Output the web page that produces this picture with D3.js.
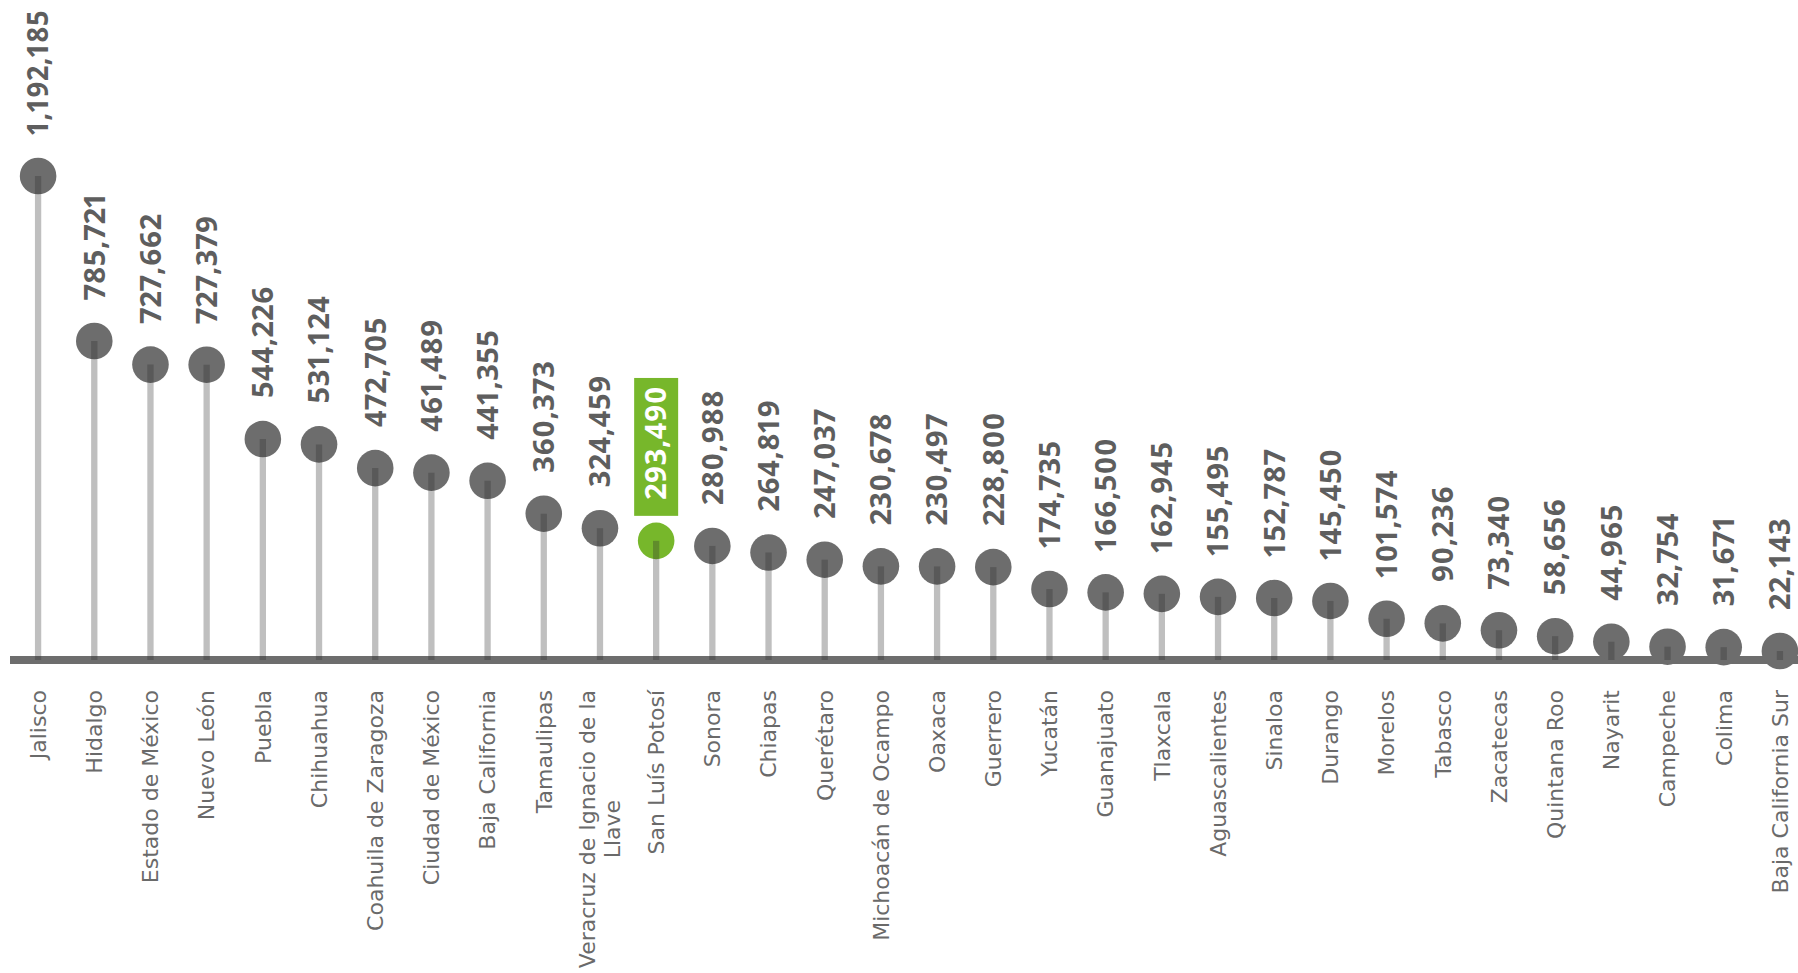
<!DOCTYPE html>
<html>
<head>
<meta charset="utf-8">
<script src="https://cdn.jsdelivr.net/npm/d3@7"></script>
<style>
  html, body { margin: 0; padding: 0; background: #ffffff; }
  svg { display: block; }
</style>
</head>
<body>
<svg id="chart" width="1798" height="973"></svg>
<script>
const states = [
  "Jalisco", "Hidalgo", "Estado de México", "Nuevo León", "Puebla", "Chihuahua",
  "Coahuila de Zaragoza", "Ciudad de México", "Baja California", "Tamaulipas",
  "Veracruz de Ignacio de la Llave", "San Luís Potosí", "Sonora", "Chiapas",
  "Querétaro", "Michoacán de Ocampo", "Oaxaca", "Guerrero", "Yucatán", "Guanajuato",
  "Tlaxcala", "Aguascalientes", "Sinaloa", "Durango", "Morelos", "Tabasco",
  "Zacatecas", "Quintana Roo", "Nayarit", "Campeche", "Colima", "Baja California Sur"
];
const values = [
  1192185, 785721, 727662, 727379, 544226, 531124,
  472705, 461489, 441355, 360373,
  324459, 293490, 280988, 264819,
  247037, 230678, 230497, 228800, 174735, 166500,
  162945, 155495, 152787, 145450, 101574, 90236,
  73340, 58656, 44965, 32754, 31671, 22143
];
const highlighted = ["San Luís Potosí"];

const data = states.map((s, i) => ({ state: s, value: values[i] }));

const svg = d3.select("#chart");
const baseY = 660;
const x = d3.scaleBand().domain(states).range([10, 1808]).padding(0);
const y = d3.scaleLinear().domain([0, d3.max(values)]).range([baseY, 176]);
const cx = d => x(d.state) + x.bandwidth() / 2;
const fmt = d3.format(",");
const isHi = d => highlighted.includes(d.state);

const GREEN = "#77b72b";
const DOT = "#6d6d6d";

// baseline (x axis domain line)
const axis = svg.append("g").attr("transform", `translate(0,${baseY})`)
  .call(d3.axisBottom(x).tickSize(0).tickFormat(""));
axis.select(".domain").attr("stroke", DOT).attr("stroke-width", 8)
  .attr("d", `M10,0H1798`);

// circles
svg.append("g").selectAll("circle").data(data).join("circle")
  .attr("cx", cx).attr("cy", d => y(d.value)).attr("r", 18.3)
  .attr("fill", d => isHi(d) ? GREEN : DOT);

// stems (translucent, on top)
svg.append("g").selectAll("line").data(data).join("line")
  .attr("x1", cx).attr("x2", cx)
  .attr("y1", d => y(d.value)).attr("y2", y(0))
  .attr("stroke", "rgba(43,43,43,0.3)").attr("stroke-width", 6.3);

// value labels
const vg = svg.append("g").selectAll("g").data(data).join("g")
  .attr("transform", d => `translate(${cx(d)},${y(d.value) - 41}) rotate(-90)`);
vg.each(function(d) {
  const g = d3.select(this);
  const t = g.append("text")
    .attr("x", 0).attr("y", 0).attr("dy", "0.355em")
    .attr("text-anchor", "start")
    .attr("font-family", "'Open Sans', sans-serif")
    .attr("font-weight", 700)
    .attr("font-size", 29)
    .attr("letter-spacing", 0.5)
    .style("font-variant-numeric", "proportional-nums")
    .attr("fill", isHi(d) ? "#ffffff" : "#5e5e5e")
    .text(fmt(d.value));
  // keep the label inside the picture
  const avail = y(d.value) - 41 - 10;
  const len0 = t.node().getComputedTextLength();
  if (len0 > avail) {
    t.attr("textLength", avail).attr("lengthAdjust", "spacingAndGlyphs");
  }
  if (isHi(d)) {
    const len = t.node().getComputedTextLength();
    g.insert("rect", "text")
      .attr("x", -16).attr("y", -22)
      .attr("width", len + 24).attr("height", 44)
      .attr("fill", GREEN);
  }
});

// category labels (rotated, wrapped)
const labelTop = 690;
const maxW = 295;
const lineH = 25;
const cg = svg.append("g").selectAll("g").data(data).join("g")
  .attr("transform", d => `translate(${cx(d)},${labelTop}) rotate(-90)`);
cg.each(function(d) {
  const g = d3.select(this);
  const mk = () => g.append("text")
    .attr("font-family", "'DejaVu Sans', sans-serif")
    .attr("font-size", 22)
    .attr("fill", "#6a6a6a");
  const words = d.state.split(" ");
  const lines = [];
  let cur = [];
  const probe = mk();
  words.forEach(w => {
    const test = cur.concat([w]).join(" ");
    probe.text(test);
    if (probe.node().getComputedTextLength() > maxW && cur.length) {
      lines.push(cur.join(" "));
      cur = [w];
    } else {
      cur.push(w);
    }
  });
  lines.push(cur.join(" "));
  probe.remove();
  if (lines.length === 1) {
    mk().attr("x", 0).attr("y", 0).attr("dy", "0.355em")
      .attr("text-anchor", "end").text(lines[0]);
  } else {
    const texts = lines.map(l => mk().text(l));
    const W = d3.max(texts, t => t.node().getComputedTextLength());
    texts.forEach((t, i) => {
      t.attr("x", -W / 2).attr("text-anchor", "middle")
        .attr("y", (i - (lines.length - 1) / 2) * lineH)
        .attr("dy", "0.355em");
    });
  }
});
</script>
</body>
</html>
